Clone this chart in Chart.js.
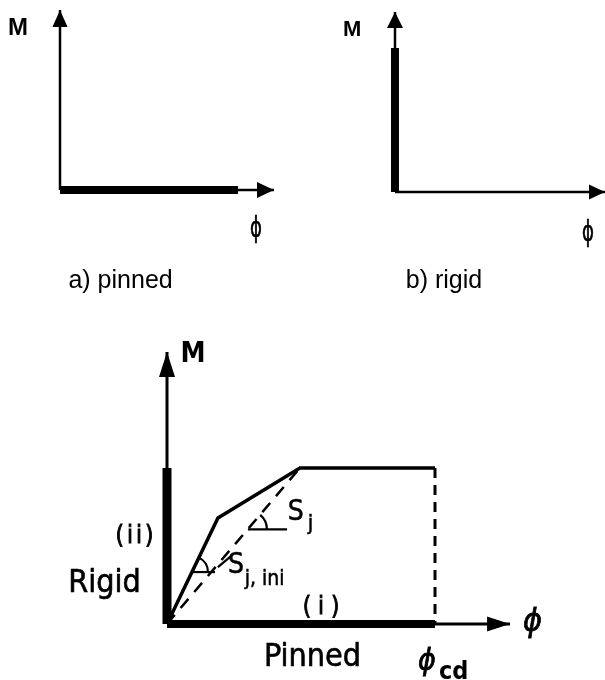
<!DOCTYPE html>
<html><head><meta charset="utf-8">
<script src="https://cdn.jsdelivr.net/npm/chart.js@4/dist/chart.umd.min.js"></script>
<style>
html,body{margin:0;padding:0;background:#fff;}
body{width:605px;height:680px;position:relative;overflow:hidden;}
canvas{position:absolute;}
</style></head>
<body>
<canvas id="ca" width="300" height="300" style="left:0;top:0;width:300px;height:300px"></canvas>
<canvas id="cb" width="305" height="300" style="left:300px;top:0;width:305px;height:300px"></canvas>
<canvas id="cc" width="605" height="360" style="left:0;top:320px;width:605px;height:360px"></canvas>
<script>
// ---------- DATA ----------
// a) pinned : moment M vs rotation phi (arbitrary units)
const pinnedAxisPhi = [0, 1.0];
const pinnedAxisM   = [0, 1.0];
const pinnedBarPhi  = [0, 0.832];
const pinnedBarM    = [0, 0];
// b) rigid
const rigidAxisPhi = [0, 1.0];
const rigidAxisM   = [0, 1.0];
const rigidBarPhi  = [0, 0];
const rigidBarM    = [0, 0.8];
// c) classification by stiffness
const classAxisPhi = [0, 1.28];
const classAxisM   = [0, 1.744];
const curvePhi  = [0, 0.19, 0.496, 1.0];
const curveM    = [0, 0.68, 1.0, 1.0];
const secantPhi = [0, 0.496];
const secantM   = [0, 1.0];
const phiCd     = 1.0;
const rigidLimitM = 1.0;
const sjLegPhi  = [0.302, 0.448];
const sjLegM    = [0.606, 0.606];
const sjiLegPhi = [0.093, 0.179];
const sjiLegM   = [0.333, 0.333];
const leaderPhi = [0.19, 0.243];
const leaderM   = [0.365, 0.442];
// texts
const captionTexts = ['a) pinned', 'b) rigid'];
const axisTexts = ['M', 'ϕ'];
const classTexts = ['M', '(ii)', 'Rigid', 'S', 'j', 'S', 'j, ini', '( i )', 'Pinned', 'ϕ', 'cd', 'ϕ'];

// ---------- HELPERS ----------
function pts(xs, ys){ return xs.map((x,i)=>({x:x, y:ys[i]})); }
function seg(xs, ys, width, extra){
  return Object.assign({data:pts(xs,ys), showLine:true, borderColor:'#000', backgroundColor:'#000',
    borderWidth:width, pointRadius:0, pointHoverRadius:0, fill:false, tension:0, borderCapStyle:'butt'}, extra||{});
}
function frame(ox, oy, ppx, ppy, w, h){
  return {
    x:{type:'linear', display:false, min:-ox/ppx, max:(w-ox)/ppx},
    y:{type:'linear', display:false, min:-(h-oy)/ppy, max:oy/ppy}
  };
}
const arrowPlugin = {
  id:'arrows',
  afterDatasetsDraw(chart){
    const ctx = chart.ctx;
    chart.data.datasets.forEach((ds,i)=>{
      if(!ds.arrow) return;
      const p = chart.getDatasetMeta(i).data;
      const a = p[p.length-2], b = p[p.length-1];
      const dx=b.x-a.x, dy=b.y-a.y, L=Math.hypot(dx,dy), ux=dx/L, uy=dy/L;
      const len=ds.arrow.len, hw=ds.arrow.width/2;
      const bx=b.x-ux*len, by=b.y-uy*len;
      ctx.save(); ctx.fillStyle='#000'; ctx.beginPath();
      ctx.moveTo(b.x,b.y);
      ctx.lineTo(bx-uy*hw, by+ux*hw);
      ctx.lineTo(bx+uy*hw, by-ux*hw);
      ctx.closePath(); ctx.fill(); ctx.restore();
    });
  }
};
function textPlugin(items){
  return {id:'texts', afterDraw(chart){
    const ctx=chart.ctx, sx=chart.scales.x, sy=chart.scales.y;
    items.forEach(t=>{
      ctx.save();
      ctx.fillStyle='#000'; ctx.font=t.font; ctx.textAlign=t.align||'left'; ctx.textBaseline='alphabetic';
      if(t.ls) ctx.letterSpacing=t.ls;
      ctx.translate(sx.getPixelForValue(t.x), sy.getPixelForValue(t.y));
      if(t.sx) ctx.scale(t.sx,1);
      ctx.fillText(t.text,0,0);
      if(t.stroke){ ctx.lineWidth=t.stroke; ctx.strokeStyle='#000'; ctx.strokeText(t.text,0,0); }
      ctx.restore();
    });
  }};
}
function arcPlugin(items){
  return {id:'arcs', afterDatasetsDraw(chart){
    const ctx=chart.ctx, sx=chart.scales.x, sy=chart.scales.y;
    items.forEach(a=>{
      const vx=sx.getPixelForValue(a.vx), vy=sy.getPixelForValue(a.vy);
      const tx=sx.getPixelForValue(a.tx), ty=sy.getPixelForValue(a.ty);
      const th=Math.atan2(ty-vy, tx-vx);
      ctx.save(); ctx.strokeStyle='#000'; ctx.lineWidth=2.2;
      ctx.beginPath(); ctx.arc(vx,vy,a.r,th,0); ctx.stroke(); ctx.restore();
    });
  }};
}
const baseOpts = (scales)=>({
  responsive:false, animation:false, devicePixelRatio:1,
  layout:{padding:0},
  plugins:{legend:{display:false}, tooltip:{enabled:false}, title:{display:false}},
  events:[],
  scales:scales
});
const SANS = "'Liberation Sans', Arial, sans-serif";
const DIN = "'DejaVu Sans Condensed', 'Liberation Sans Narrow', 'DejaVu Sans', sans-serif";

// ---------- a) pinned ----------
new Chart(document.getElementById('ca'), {
  type:'scatter',
  data:{datasets:[
    seg([0,0], pinnedAxisM, 2.5, {arrow:{len:17, width:15}}),
    seg(pinnedAxisPhi, [0,0], 2.5, {arrow:{len:17, width:16}}),
    seg(pinnedBarPhi, pinnedBarM, 8)
  ]},
  options: baseOpts(frame(60, 190, 214, 180, 300, 300)),
  plugins:[arrowPlugin, textPlugin([
    {text:axisTexts[0], x:-0.243, y:0.861, font:'bold 24px '+SANS},
    {text:axisTexts[1], x:0.916, y:-0.261, font:'28px '+DIN, align:'center', sx:0.72, stroke:0.6},
    {text:captionTexts[0], x:0.283, y:-0.544, font:'25px '+SANS, align:'center'}
  ])]
});

// ---------- b) rigid ----------
new Chart(document.getElementById('cb'), {
  type:'scatter',
  data:{datasets:[
    seg([0,0], rigidAxisM, 2.5, {arrow:{len:16, width:16}}),
    seg(rigidAxisPhi, [0,0], 2.5, {arrow:{len:16, width:15}}),
    seg(rigidBarPhi, rigidBarM, 8)
  ]},
  options: baseOpts(frame(95, 192, 210, 180, 305, 300)),
  plugins:[arrowPlugin, textPlugin([
    {text:axisTexts[0], x:-0.248, y:0.867, font:'bold 22px '+SANS},
    {text:axisTexts[1], x:0.919, y:-0.272, font:'28px '+DIN, align:'center', sx:0.72, stroke:0.6},
    {text:captionTexts[1], x:0.233, y:-0.533, font:'25px '+SANS, align:'center'}
  ])]
});

// ---------- c) classification ----------
new Chart(document.getElementById('cc'), {
  type:'scatter',
  data:{datasets:[
    seg([0,0], classAxisM, 3, {arrow:{len:25, width:16}}),
    seg(classAxisPhi, [0,0], 3, {arrow:{len:23, width:15}}),
    seg([0,0], [0,rigidLimitM], 9),
    seg([0,phiCd], [0,0], 8),
    seg(curvePhi, curveM, 3.5, {borderJoinStyle:'miter'}),
    seg([phiCd,phiCd], [rigidLimitM,0], 3, {borderDash:[10,7]}),
    seg(secantPhi, secantM, 2.5, {borderDash:[12,9]}),
    seg(sjLegPhi, sjLegM, 2.2),
    seg(sjiLegPhi, sjiLegM, 2.2),
    seg(leaderPhi, leaderM, 2.2)
  ]},
  options: baseOpts(frame(167, 304, 268, 156, 605, 360)),
  plugins:[arrowPlugin,
    arcPlugin([
      {vx:sjLegPhi[0], vy:sjLegM[0], tx:secantPhi[1], ty:secantM[1], r:19},
      {vx:sjiLegPhi[0], vy:sjiLegM[0], tx:curvePhi[1], ty:curveM[1], r:16}
    ]),
    textPlugin([
      {text:classTexts[0], x:0.097, y:1.679, font:'bold 28px '+DIN, align:'center'},
      {text:classTexts[1], x:-0.116, y:0.519, font:'24px '+DIN, align:'center', ls:'3px', stroke:0.8},
      {text:classTexts[2], x:-0.233, y:0.205, font:'32px '+DIN, align:'center', stroke:0.6},
      {text:classTexts[3], x:0.451, y:0.667, font:'28px '+DIN, stroke:0.5},
      {text:classTexts[4], x:0.525, y:0.603, font:'22px '+DIN, stroke:0.5},
      {text:classTexts[5], x:0.228, y:0.327, font:'28px '+DIN, stroke:0.5},
      {text:classTexts[6], x:0.29, y:0.25, font:'21px '+DIN, stroke:0.5},
      {text:classTexts[7], x:0.575, y:0.064, font:'24px '+DIN, align:'center', stroke:0.8},
      {text:classTexts[8], x:0.543, y:-0.269, font:'32px '+DIN, align:'center', stroke:0.6},
      {text:classTexts[9], x:0.937, y:-0.295, font:'oblique 30px '+DIN, stroke:0.8},
      {text:classTexts[10], x:1.015, y:-0.353, font:'bold 25px '+DIN},
      {text:classTexts[11], x:1.328, y:-0.045, font:'oblique 32px '+DIN, stroke:0.8}
    ])]
});
</script>
</body></html>
